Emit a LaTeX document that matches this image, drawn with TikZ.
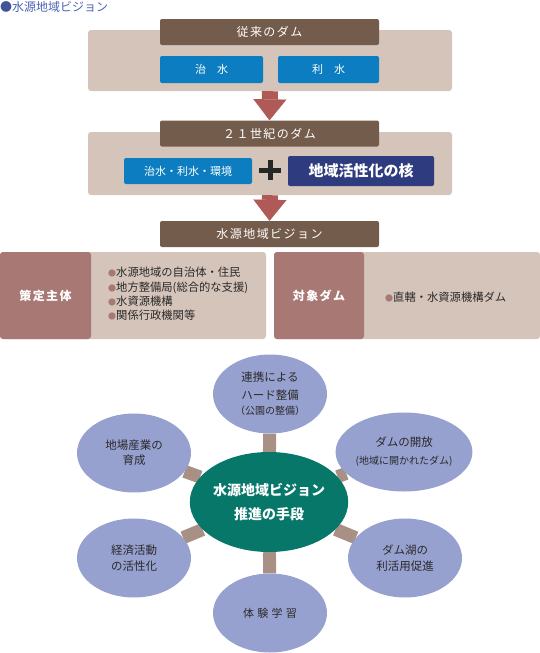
\documentclass[tikz,border=0pt]{standalone}
\usepackage{fontspec}
\setmainfont{Noto Sans CJK JP}
\newfontfamily\hdfont[LetterSpace=12]{Noto Sans CJK JP}
\newfontfamily\widefont[LetterSpace=30]{Noto Sans CJK JP}
\usetikzlibrary{shapes.geometric,arrows.meta,backgrounds}
\definecolor{beige}{HTML}{D5C4BA}
\definecolor{brownhd}{HTML}{745C4C}
\definecolor{bluebx}{HTML}{0C7DC0}
\definecolor{navybx}{HTML}{2E3B7E}
\definecolor{arrowred}{HTML}{B05A58}
\definecolor{rose}{HTML}{A87875}
\definecolor{titleblue}{HTML}{4B63B5}
\definecolor{lavender}{HTML}{97A1D0}
\definecolor{hubgreen}{HTML}{07776A}
\definecolor{spokecol}{HTML}{A89084}
\definecolor{inkgray}{HTML}{2A2A2A}
\begin{document}
\begin{tikzpicture}[
  x=1pt, y=-1pt,
  every node/.style={inner sep=0pt, text=inkgray, font=\fontsize{11}{14}\selectfont},
  panel/.style={fill=beige, rounded corners=3pt, minimum width=364pt},
  hdbox/.style={fill=brownhd, rounded corners=2pt, minimum width=219pt, minimum height=26pt,
    text=white, font=\hdfont\fontsize{12}{14}\selectfont},
  bluebox/.style={fill=bluebx, rounded corners=2pt, minimum height=27pt, text=white},
  arr/.style={draw=arrowred, line width=16pt, -{Triangle[width=33pt,length=21pt,line width=0.1pt]}},
  infopanel/.style={fill=beige, rounded corners=3pt, minimum height=87pt},
  tag/.style={fill=rose, rounded corners=3pt, minimum height=87pt, text=white,
    font=\hdfont\bfseries\fontsize{12}{14}\selectfont},
  sat/.style={ellipse, fill=lavender, minimum width=114pt, minimum height=79pt, align=center},
  spoke/.style={draw=spokecol, line width=13pt}
]
\useasboundingbox (0,0) rectangle (540,653);

\node[anchor=west, text=titleblue, font=\fontsize{12}{14}\selectfont] (ttl) at (0,7)
  {{\color{titleblue!85!black}●}水源地域ビジョン};

\node[panel, minimum height=61pt] (bg1) at (270,60.5) {};
\node[hdbox] (hd1) at (269.5,32) {従来のダム};
\node[bluebox, minimum width=103pt] (chisui) at (211.5,69.5) {治\hspace{11pt}水};
\node[bluebox, minimum width=101pt] (risui) at (328.5,69.5) {利\hspace{11pt}水};

\node[panel, minimum height=63pt] (bg2) at (270,163.5) {};
\node[hdbox] (hd2) at (269.5,133.5) {２１世紀のダム};
\node[bluebox, minimum width=128pt, minimum height=26pt] (triple) at (188,171) {治水・利水・環境};
\node[fill=navybx, rounded corners=2pt, minimum width=146pt, minimum height=30pt,
  text=white, font=\bfseries\fontsize{15}{17}\selectfont] (core) at (361,171) {地域活性化の核};
\coordinate (plus) at (270,170);
\draw[line width=5pt, draw=black!85] ([xshift=-11pt]plus) -- ([xshift=11pt]plus)
  ([yshift=-10pt]plus) -- ([yshift=10pt]plus);

\node[hdbox] (hd3) at (269.5,234) {水源地域ビジョン};

\draw[arr] (bg1.south) -- (hd2.north);
\draw[arr] (bg2.south) -- (hd3.north);

\node[infopanel, minimum width=266pt] (pnlA) at (133,295.5) {};
\node[tag, minimum width=91pt] (tagA) at (45.5,295.5) {策定主体};
\node[anchor=west, align=left, font=\fontsize{11.3}{14.2}\selectfont] (listA) at (108,294) {%
  {\color{rose}\fontsize{8}{8}\selectfont ●}水源地域の自治体・住民\\
  {\color{rose}\fontsize{8}{8}\selectfont ●}地方整備局(総合的な支援)\\
  {\color{rose}\fontsize{8}{8}\selectfont ●}水資源機構\\
  {\color{rose}\fontsize{8}{8}\selectfont ●}関係行政機関等};

\node[infopanel, minimum width=266pt] (pnlB) at (407,295.5) {};
\node[tag, minimum width=90pt] (tagB) at (319,295.5) {対象ダム};
\node[anchor=west, font=\fontsize{11.3}{14}\selectfont] (listB) at (385,297)
  {{\color{rose}\fontsize{8}{8}\selectfont ●}直轄・水資源機構ダム};

\node[ellipse, fill=hubgreen, minimum width=140pt, minimum height=100pt, align=center,
  text=white, font=\bfseries\fontsize{14}{24}\selectfont] (hub) at (269,502)
  {水源地域ビジョン\\推進の手段};
\node[sat, font=\fontsize{11.5}{18}\selectfont] (hard) at (270,394)
  {連携による\\ハード整備\\[-3pt]{\fontsize{10}{12}\selectfont （公園の整備）}};
\node[sat, font=\fontsize{11.5}{15}\selectfont] (ind) at (134,453) {地場産業の\\育成};
\node[sat, font=\fontsize{11.5}{18}\selectfont] (open) at (404,452)
  {ダムの開放\\{\fontsize{10}{12}\selectfont (地域に開かれたダム)}};
\node[sat, font=\fontsize{11.5}{16}\selectfont] (econ) at (134,558) {経済活動\\の活性化};
\node[sat, font=\fontsize{11.5}{16}\selectfont] (lake) at (405,558) {ダム湖の\\利活用促進};
\node[sat, font=\widefont\fontsize{11}{14}\selectfont] (exp) at (270,613) {体験学習};

\begin{scope}[on background layer]
  \foreach \s in {hard,ind,open,econ,lake,exp}
    \draw[spoke] (hub) -- (\s);
\end{scope}
\end{tikzpicture}
\end{document}
